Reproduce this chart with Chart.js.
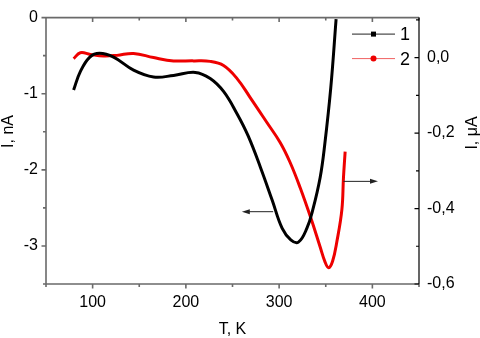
<!DOCTYPE html>
<html><head><meta charset="utf-8">
<script src="https://cdn.jsdelivr.net/npm/chart.js@4.4.1/dist/chart.umd.min.js"></script>
<style>html,body{margin:0;padding:0;background:#fff}</style>
</head><body>
<canvas id="c" width="480" height="338"></canvas>
<script>
// ---- data ----
const seriesNames = ['1', '2'];
// curve 1: left axis, I in nA
const temp1 = [79.6, 86.8, 97, 107.4, 122.5, 143.9, 165.3, 186.8, 210, 226.1, 240.4, 254.7, 266.8, 280.2, 292.6, 303.3, 312.5, 320.7, 329.7, 336.2, 344, 348.8, 355.4, 361.1];
const curr1 = [-0.95, -0.71, -0.52, -0.47, -0.52, -0.69, -0.78, -0.76, -0.72, -0.80, -0.97, -1.26, -1.555, -1.975, -2.40, -2.77, -2.92, -2.95, -2.77, -2.52, -2.10, -1.68, -0.92, -0.02];
// curve 2: right axis, I in µA
const temp2 = [79.6, 86.8, 97.5, 111.7, 126.1, 143.9, 165.3, 186.8, 208.2, 226.1, 240.4, 254.7, 269, 286.9, 301.1, 311.8, 322.6, 334.4, 344, 349.3, 353.1, 357.4, 361.9, 367.3, 369, 370.8];
const curr2 = [-0.003, 0.0127, 0.0084, 0.0041, 0.0059, 0.011, 0.000, -0.0087, -0.0087, -0.010, -0.021, -0.055, -0.106, -0.172, -0.225, -0.278, -0.345, -0.428, -0.502, -0.542, -0.557, -0.539, -0.488, -0.403, -0.318, -0.249];
// axes
const xRange = [50, 450];        const xMajor = 100, xMinor = 50;
const yRange = [-3.5, 0];        const yMajor = 1,   yMinor = 0.5;
const y2Range = [-0.6, 0.106];   const y2Major = 0.2, y2Minor = 0.1;
const axisTitles = {x: 'T, K', y: 'I, nA', y2: 'I, \u03bcA'};
// annotation arrows (data coordinates)
const arrows = [
  {axis: 'y',  from: [293.6, -2.55], to: [260, -2.55]},
  {axis: 'y2', from: [369, -0.328],  to: [406, -0.328]}
];

const FONT = '"Liberation Sans", Arial, sans-serif';
const AXIS_GRAY = '#6a6a6a';
const RED = '#ee0000';

function isMult(v, step) { return Math.abs(Math.round(v / step) * step - v) < 1e-7; }

const framePlugin = {
  id: 'frame',
  afterDraw(chart) {
    const {ctx, chartArea: a, scales} = chart;
    const x = scales.x, y = scales.y, y2 = scales.y2;
    ctx.save();
    ctx.lineCap = 'butt';
    ctx.strokeStyle = AXIS_GRAY; ctx.lineWidth = 1.6;
    ctx.beginPath();
    ctx.moveTo(a.left, a.top); ctx.lineTo(a.right, a.top);
    ctx.moveTo(a.left, a.top); ctx.lineTo(a.left, a.bottom); ctx.lineTo(a.right, a.bottom);
    for (let k = 0; ; k++) {
      const v = xRange[0] + k * xMinor; if (v > xRange[1] + 1e-9) break;
      const px = x.getPixelForValue(v); const len = isMult(v, xMajor) ? 4.5 : 3;
      ctx.moveTo(px, a.bottom); ctx.lineTo(px, a.bottom + len);
      ctx.moveTo(px, a.top); ctx.lineTo(px, a.top + len);
    }
    for (let k = 0; ; k++) {
      const v = yRange[0] + k * yMinor; if (v > yRange[1] + 1e-9) break;
      const py = y.getPixelForValue(v); const len = isMult(v, yMajor) ? 4.5 : 3;
      ctx.moveTo(a.left - len, py); ctx.lineTo(a.left, py);
    }
    ctx.stroke();
    ctx.strokeStyle = '#000'; ctx.lineWidth = 1.2;
    ctx.beginPath();
    ctx.moveTo(a.right, a.top); ctx.lineTo(a.right, a.bottom);
    for (let k = 0; ; k++) {
      const v = y2Range[0] + k * y2Minor; if (v > y2Range[1] + 1e-9) break;
      const py = y2.getPixelForValue(v); const len = isMult(v, y2Major) ? 4.5 : 3;
      ctx.moveTo(a.right - len, py); ctx.lineTo(a.right, py);
    }
    ctx.stroke();

    // axis titles
    ctx.fillStyle = '#000';
    ctx.font = '16px ' + FONT;
    ctx.textAlign = 'center'; ctx.textBaseline = 'middle';
    ctx.fillText(axisTitles.x, (a.left + a.right) / 2, 330);
    ctx.textBaseline = 'alphabetic';
    ctx.save(); ctx.translate(13, 131.5); ctx.rotate(-Math.PI / 2); ctx.fillText(axisTitles.y, 0, 0); ctx.restore();
    ctx.save(); ctx.translate(477, 133); ctx.rotate(-Math.PI / 2); ctx.fillText(axisTitles.y2, 0, 0); ctx.restore();

    // legend (inside, top-right)
    const ds = chart.data.datasets;
    const rows = [a.top + 16.5, a.top + 41];
    const lx0 = a.right - 67, lx1 = a.right - 24, mx = a.right - 45.5;
    ds.forEach((d, i) => {
      const ly = rows[i];
      ctx.strokeStyle = i === 0 ? '#222' : '#f06060';
      ctx.lineWidth = 1;
      ctx.beginPath(); ctx.moveTo(lx0, ly); ctx.lineTo(lx1, ly); ctx.stroke();
      ctx.fillStyle = d.borderColor;
      if (i === 0) { ctx.fillRect(mx - 2.5, ly - 2.5, 5, 5); }
      else { ctx.beginPath(); ctx.arc(mx, ly, 3, 0, Math.PI * 2); ctx.fill(); }
      ctx.fillStyle = '#000';
      ctx.font = '18px ' + FONT; ctx.textAlign = 'left'; ctx.textBaseline = 'middle';
      ctx.fillText(d.label, a.right - 19, ly + 1);
    });

    // arrows
    ctx.strokeStyle = '#222'; ctx.fillStyle = '#222'; ctx.lineWidth = 1;
    arrows.forEach(ar => {
      const sy = scales[ar.axis];
      const x0 = x.getPixelForValue(ar.from[0]), y0 = sy.getPixelForValue(ar.from[1]);
      const x1 = x.getPixelForValue(ar.to[0]),   y1 = sy.getPixelForValue(ar.to[1]);
      const dir = Math.sign(x1 - x0);
      ctx.beginPath(); ctx.moveTo(x0, y0); ctx.lineTo(x1 - dir * 5, y1); ctx.stroke();
      ctx.beginPath(); ctx.moveTo(x1, y1); ctx.lineTo(x1 - dir * 8, y1 - 2.5); ctx.lineTo(x1 - dir * 8, y1 + 2.5); ctx.closePath(); ctx.fill();
    });
    ctx.restore();
  }
};

const tickFont = {family: FONT, size: 16};
new Chart(document.getElementById('c'), {
  type: 'line',
  data: {
    datasets: [
      {label: seriesNames[0], yAxisID: 'y', data: temp1.map((t, i) => ({x: t, y: curr1[i]})),
       borderColor: '#000', backgroundColor: '#000', borderWidth: 3, pointRadius: 0, tension: 0.4},
      {label: seriesNames[1], yAxisID: 'y2', data: temp2.map((t, i) => ({x: t, y: curr2[i]})),
       borderColor: RED, backgroundColor: RED, borderWidth: 3, pointRadius: 0, tension: 0.4}
    ]
  },
  options: {
    responsive: false, animation: false, devicePixelRatio: 1,
    layout: {padding: {top: 7, left: 0, right: 0, bottom: 0}},
    plugins: {legend: {display: false}, tooltip: {enabled: false}},
    scales: {
      x: {type: 'linear', position: 'bottom', min: xRange[0], max: xRange[1],
          grid: {display: false, drawTicks: false}, border: {display: false},
          ticks: {stepSize: xMinor, autoSkip: false, maxRotation: 0, padding: 9, color: '#000', font: tickFont,
                  callback: v => isMult(v, xMajor) ? String(Math.round(v)) : ''},
          afterFit: s => { s.height = 54; }},
      y: {type: 'linear', position: 'left', min: yRange[0], max: yRange[1],
          grid: {display: false, drawTicks: false}, border: {display: false},
          ticks: {stepSize: yMinor, autoSkip: false, padding: 8, color: '#000', font: tickFont,
                  callback: v => isMult(v, yMajor) ? String(Math.round(v)) : ''},
          afterFit: s => { s.width = 46; }},
      y2: {type: 'linear', position: 'right', min: y2Range[0], max: y2Range[1],
          grid: {display: false, drawTicks: false}, border: {display: false},
          ticks: {stepSize: y2Minor, autoSkip: false, padding: 8, color: '#000', font: tickFont,
                  callback: v => isMult(v, y2Major) ? (Math.round(v * 10) / 10).toFixed(1).replace('-0.0', '0.0').replace('.', ',') : ''},
          afterFit: s => { s.width = 61; }}
    }
  },
  plugins: [framePlugin]
});
</script>
</body></html>
